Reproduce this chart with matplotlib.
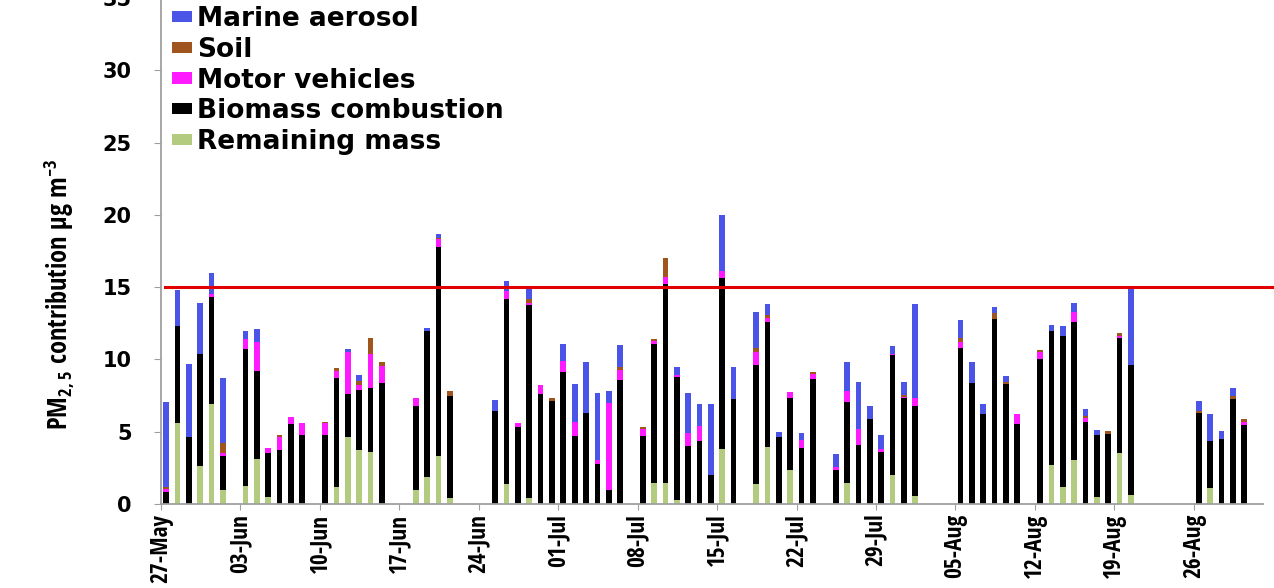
import numpy as np
import pandas as pd
import matplotlib
matplotlib.use('Agg')
import matplotlib.pyplot as plt
from matplotlib import font_manager
from matplotlib.font_manager import FontProperties
from matplotlib.textpath import TextPath

# sampling days (gaps = no sample)
dates = ['27-May', '28-May', '29-May', '30-May', '31-May', '01-Jun',
         '03-Jun', '04-Jun', '05-Jun', '06-Jun', '07-Jun', '08-Jun',
         '10-Jun', '11-Jun', '12-Jun', '13-Jun', '14-Jun', '15-Jun',
         '18-Jun', '19-Jun', '20-Jun', '21-Jun',
         '25-Jun', '26-Jun', '27-Jun', '28-Jun', '29-Jun', '30-Jun',
         '01-Jul', '02-Jul', '03-Jul', '04-Jul', '05-Jul', '06-Jul',
         '08-Jul', '09-Jul', '10-Jul', '11-Jul', '12-Jul', '13-Jul', '14-Jul', '15-Jul', '16-Jul',
         '18-Jul', '19-Jul', '20-Jul', '21-Jul', '22-Jul', '23-Jul',
         '25-Jul', '26-Jul', '27-Jul', '28-Jul', '29-Jul', '30-Jul', '31-Jul', '01-Aug',
         '05-Aug', '06-Aug', '07-Aug', '08-Aug', '09-Aug', '10-Aug',
         '12-Aug', '13-Aug', '14-Aug', '15-Aug', '16-Aug', '17-Aug', '18-Aug', '19-Aug', '20-Aug',
         '26-Aug', '27-Aug', '28-Aug', '29-Aug', '30-Aug']

remaining = [0, 5.6, 0, 2.6, 6.95, 1.0,
             1.25, 3.1, 0.45, 0, 0, 0,
             0, 1.2, 4.6, 3.75, 3.6, 0,
             0.95, 1.85, 3.3, 0.4,
             0, 1.4, 0.1, 0.4, 0, 0,
             0, 0, 0, 0, 0, 0,
             0, 1.45, 1.45, 0.3, 0, 0, 0, 3.8, 0,
             1.4, 3.95, 0, 2.35, 0, 0,
             0, 1.45, 0, 0, 0, 2.0, 0, 0.55,
             0, 0, 0, 0, 0, 0,
             0, 2.7, 1.2, 3.05, 0, 0.5, 0, 3.5, 0.6,
             0, 1.1, 0, 0, 0]

biomass = [0.8, 6.7, 4.6, 7.8, 7.35, 2.35,
           9.45, 6.1, 3.05, 3.75, 5.5, 4.75,
           4.8, 7.5, 3.0, 4.15, 4.4, 8.35,
           5.85, 10.15, 14.5, 7.1,
           6.4, 12.8, 5.2, 13.35, 7.6, 7.1,
           9.15, 4.7, 6.3, 2.8, 1.0, 8.6,
           4.7, 9.65, 13.75, 8.5, 4.0, 4.35, 2.0, 11.8, 7.25,
           8.2, 8.65, 4.6, 5.0, 3.9, 8.65,
           2.35, 5.6, 4.1, 5.9, 3.6, 8.3, 7.3, 6.25,
           10.8, 8.4, 6.25, 12.8, 8.3, 5.5,
           10.05, 9.3, 10.45, 9.55, 5.7, 4.25, 4.85, 8.0, 9.0,
           6.3, 3.25, 4.5, 7.25, 5.45]

motor = [0.25, 0, 0, 0, 0.2, 0.2,
         0.7, 2.0, 0.35, 0.9, 0.55, 0.85,
         0.8, 0.5, 2.9, 0.3, 2.4, 1.2,
         0.55, 0, 0.5, 0,
         0, 0.5, 0.3, 0.15, 0.6, 0,
         0.75, 1.0, 0, 0.25, 6.0, 0.7,
         0.5, 0.15, 0.5, 0.15, 0.9, 1.05, 0, 0.5, 0,
         0.9, 0.3, 0, 0.4, 0.55, 0.35,
         0.2, 0.75, 1.1, 0, 0.2, 0.1, 0.1, 0.55,
         0.4, 0, 0, 0, 0, 0.75,
         0.45, 0, 0, 0.7, 0.25, 0, 0, 0.15, 0,
         0, 0, 0, 0, 0.2]

soil = [0.1, 0, 0, 0, 0, 0.7,
        0, 0, 0, 0.15, 0, 0,
        0.1, 0.2, 0, 0.3, 1.1, 0.3,
        0, 0, 0.1, 0.35,
        0, 0, 0, 0.3, 0, 0.2,
        0, 0, 0, 0, 0, 0.2,
        0.15, 0.15, 1.3, 0, 0, 0, 0, 0, 0,
        0.3, 0.2, 0, 0, 0, 0.15,
        0, 0, 0, 0, 0, 0, 0.15, 0,
        0.3, 0, 0, 0.4, 0.15, 0,
        0.15, 0, 0, 0, 0.15, 0, 0.2, 0.15, 0,
        0.1, 0, 0, 0.2, 0.25]

marine = [5.9, 2.5, 5.1, 3.5, 1.5, 4.5,
          0.6, 0.9, 0, 0, 0, 0,
          0, 0, 0.2, 0.4, 0, 0,
          0, 0.2, 0.3, 0,
          0.8, 0.7, 0, 0.75, 0, 0,
          1.2, 2.6, 3.5, 4.65, 0.8, 1.5,
          0, 0, 0, 0.55, 2.8, 1.5, 4.9, 3.9, 2.2,
          2.5, 0.7, 0.4, 0, 0.45, 0,
          0.9, 2.0, 3.25, 0.9, 0.95, 0.5, 0.9, 6.5,
          1.2, 1.45, 0.65, 0.4, 0.4, 0,
          0, 0.4, 0.65, 0.6, 0.45, 0.35, 0, 0, 5.3,
          0.7, 1.9, 0.55, 0.55, 0]

tick_labels = ['27-May', '03-Jun', '10-Jun', '17-Jun', '24-Jun', '01-Jul', '08-Jul',
               '15-Jul', '22-Jul', '29-Jul', '05-Aug', '12-Aug', '19-Aug', '26-Aug']

limit = 15  # guideline line
ylabel = r'PM$_{2,5}$ contribution µg m$^{-3}$'

plt.rcParams['font.family'] = 'DejaVu Sans'
plt.rcParams['mathtext.default'] = 'regular'


# the rotated texts in the original are tall and narrow:
# pick the installed bold sans face whose width/height ratio is closest
def pick_narrow(target=3.8):
    fams = {'DejaVu Sans', 'Liberation Sans', 'Liberation Sans Narrow', 'Noto Sans',
            'Roboto', 'Roboto Condensed', 'Open Sans', 'Open Sans Condensed', 'Lato', 'Inter'}
    best, best_d = None, 1e9
    for f in font_manager.fontManager.ttflist:
        w = f.weight if not isinstance(f.weight, str) else font_manager.weight_dict.get(f.weight, 400)
        if f.name not in fams or f.style != 'normal' or w < 600 or w > 800:
            continue
        try:
            p = FontProperties(fname=f.fname, size=100)
            wid = TextPath((0, 0), '27-May', prop=p).get_extents().width
            cap = TextPath((0, 0), 'M', prop=p).get_extents().height
        except Exception:
            continue
        d = abs(wid / cap - target)
        if d < best_d:
            best, best_d = f.fname, d
    return best


nfile = pick_narrow()
if nfile:
    base = dict(fname=nfile)
else:
    base = dict(family='Liberation Sans', weight='bold')


def size_for(text, px):
    # font size (pt) that makes text about px pixels long at dpi 100
    w = TextPath((0, 0), text, prop=FontProperties(size=100, **base)).get_extents().width
    return px * 72 / w


xsize = size_for('27-May', 68)
ysize = size_for(ylabel, 268)

# day index from the first day
start = pd.to_datetime('27-May', format='%d-%b')
days = np.array([(pd.to_datetime(d, format='%d-%b') - start).days for d in dates])
ticks = np.array([(pd.to_datetime(d, format='%d-%b') - start).days for d in tick_labels])
x = days + 0.45

series = [('Remaining mass', remaining, '#b2cb7e'),
          ('Biomass combustion', biomass, '#000000'),
          ('Motor vehicles', motor, '#ff1aff'),
          ('Soil', soil, '#a0541e'),
          ('Marine aerosol', marine, '#4a55e8')]

fig = plt.figure(figsize=(12.74, 5.88), dpi=100)
ax = fig.add_axes([161 / 1274, 84 / 588, (1263 - 161) / 1274, 506 / 588])

bottom = np.zeros(len(dates))
handles = []
for name, vals, col in series:
    vals = np.array(vals)
    b = ax.bar(x, vals, width=0.5, bottom=bottom, color=col, label=name, linewidth=0)
    handles.append(b)
    bottom = bottom + vals

# 15 ug/m3 line runs to the picture edge
ax.plot([0.35, 99], [limit, limit], color='#e00000', lw=2.2, clip_on=False, zorder=5)

ax.set_xlim(0, 97.1)
ax.set_ylim(0, 35)
ax.set_yticks(np.arange(0, 36, 5))
ax.set_xticks(ticks)
ax.set_xticklabels(tick_labels, rotation=90, fontproperties=FontProperties(size=xsize, **base))
for lab in ax.get_yticklabels():
    lab.set_fontsize(15)
    lab.set_fontweight('bold')

for s in ['top', 'right']:
    ax.spines[s].set_visible(False)
for s in ['left', 'bottom']:
    ax.spines[s].set_color('#a0a0a0')
    ax.spines[s].set_linewidth(1.3)
ax.tick_params(axis='y', length=5, color='#a0a0a0', pad=16)
ax.tick_params(axis='x', length=4, color='#a0a0a0', pad=3)

fig.text(60 / 1274, 1 - 294 / 588, ylabel, rotation=90,
         ha='center', va='center', fontproperties=FontProperties(size=ysize, **base))

# legend: top series first
leg = fig.legend(handles[::-1], [s[0] for s in series[::-1]], loc='upper left',
                 bbox_to_anchor=(172 / 1274, 1 - 6 / 588), frameon=False,
                 prop={'weight': 'bold', 'size': 19}, handlelength=0.75, handleheight=0.28,
                 handletextpad=0.2, labelspacing=0.18, borderpad=0, borderaxespad=0)

fig.savefig('out.png', dpi=100)
